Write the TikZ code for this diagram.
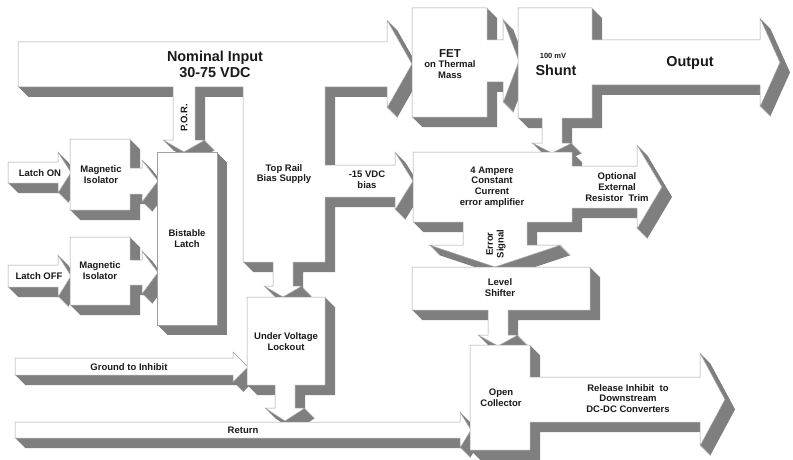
\documentclass[tikz,border=0pt]{standalone}
\usepackage{fontspec}
\setmainfont{Liberation Sans}
\usepackage{tikz}
\definecolor{slabedge}{HTML}{A0A0A0}
\definecolor{slabside}{HTML}{7F7F7F}
\definecolor{ink}{HTML}{1A1A1A}

% white front face, extruded toward the lower right
\newcommand{\blockslab}[1]{%
  \foreach \d in {0.5,1,...,10} {\fill[slabside, shift={(\d,\d)}] #1;}%
  \filldraw[fill=white, draw=slabedge, line width=0.5pt, line join=miter] #1;}

\begin{document}
\begin{tikzpicture}[
    x=1pt, y=-1pt,
    lbl/.style={font=\fontsize{9.5}{10.8}\selectfont\bfseries, text=ink, align=center, inner sep=0pt},
    big/.style={lbl, font=\fontsize{14.4}{16}\selectfont\bfseries},
  ]
  \useasboundingbox (0,0) rectangle (793,460);

  % supply rail with P.O.R., top rail bias supply and its outlets
  \blockslab{(18,42) -- (387,42) -- (387,20) -- (412,64) -- (387,108) -- (387,87) -- (325,87) -- (325,165) -- (395,165) -- (395,152) -- (413,181) -- (395,210) -- (395,197) -- (325,197) -- (325,262) -- (293,262) -- (293,286) -- (302,286) -- (283,297) -- (264,286) -- (273,286) -- (273,262) -- (243,262) -- (243,87) -- (195,87) -- (195,140) -- (205,140) -- (184,152) -- (163,140) -- (173,140) -- (173,87) -- (18,87) -- cycle}

  % latch inputs
  \blockslab{(8,162) -- (58,162) -- (58,152) -- (71,172.5) -- (58,193) -- (58,183) -- (8,183) -- cycle}
  \blockslab{(70,139) -- (130,139) -- (130,168) -- (142,168) -- (142,160) -- (158,181) -- (142,202) -- (142,194) -- (130,194) -- (130,210) -- (70,210) -- cycle}
  \blockslab{(8,265) -- (58,265) -- (58,255) -- (71,276) -- (58,297) -- (58,287) -- (8,287) -- cycle}
  \blockslab{(70,237) -- (130,237) -- (130,260) -- (142,260) -- (142,251) -- (158,272.5) -- (142,294) -- (142,285) -- (130,285) -- (130,305) -- (70,305) -- cycle}
  \blockslab{(157,152) rectangle (217,325)}

  % inhibit and return
  \blockslab{(15,358) -- (233,358) -- (233,352) -- (248,367) -- (233,382) -- (233,375) -- (15,375) -- cycle}
  \blockslab{(247,297) -- (325,297) -- (325,385) -- (295,385) -- (295,408) -- (305,408) -- (285,421) -- (265,408) -- (275,408) -- (275,385) -- (247,385) -- cycle}
  \blockslab{(15,422) -- (460,422) -- (460,412) -- (471,430) -- (460,448) -- (460,438) -- (15,438) -- cycle}

  % power path
  \blockslab{(412,8) -- (487,8) -- (487,40) -- (503,40) -- (503,19) -- (519,61) -- (503,103) -- (503,82) -- (487,82) -- (487,117) -- (412,117) -- cycle}
  \blockslab{(518,8) -- (592,8) -- (592,40) -- (760,40) -- (760,18) -- (780,62.5) -- (760,107) -- (760,85) -- (592,85) -- (592,118) -- (562,118) -- (562,143) -- (572,143) -- (552,153) -- (532,143) -- (542,143) -- (542,118) -- (518,118) -- cycle}

  % control loop
  \blockslab{(413,152) -- (572,152) -- (572,166) -- (637,166) -- (637,145) -- (662,187) -- (637,229) -- (637,208) -- (572,208) -- (572,222) -- (527,222) -- (527,245) -- (561,245) -- (495,267) -- (429,245) -- (463,245) -- (463,222) -- (413,222) -- cycle}
  \blockslab{(412,267) -- (590,267) -- (590,310) -- (508,310) -- (508,335) -- (518,335) -- (498,346) -- (478,335) -- (488,335) -- (488,310) -- (412,310) -- cycle}
  \blockslab{(470,345) -- (530,345) -- (530,377) -- (700,377) -- (700,353) -- (725,399.5) -- (700,446) -- (700,422) -- (530,422) -- (530,450) -- (470,450) -- cycle}

  % labels
  \node[big] (nominal) at (215,64) {Nominal Input\\30-75 VDC};
  \node[lbl, rotate=90] (por) at (184,118) {P.O.R.};
  \node[lbl] (fet) at (450,64) {{\fontsize{11.5}{13}\selectfont FET}\\on Thermal\\Mass};
  \node[lbl, font=\fontsize{7.5}{9}\selectfont\bfseries] (shuntval) at (553,56) {100 mV};
  \node[big] (shunt) at (556,70) {Shunt};
  \node[big] (output) at (690,63) {Output};
  \node[lbl] (latchon) at (40,173) {Latch ON};
  \node[lbl] (iso1) at (101,174.5) {Magnetic\\Isolator};
  \node[lbl] (latchoff) at (39,276) {Latch OFF};
  \node[lbl] (iso2) at (100,271) {Magnetic\\Isolator};
  \node[lbl] (latch) at (187,238.5) {Bistable\\Latch};
  \node[lbl] (toprail) at (284,174) {Top Rail\\Bias Supply};
  \node[lbl] (bias) at (367,180) {-15 VDC\\bias};
  \node[lbl] (amp) at (492,187) {4 Ampere\\Constant\\Current\\error amplifier};
  \node[lbl] (trim) at (617,187) {Optional\\External\\Resistor~~Trim};
  \node[lbl, rotate=90] (error) at (496,244) {Error\\Signal};
  \node[lbl] (shifter) at (500,288) {Level\\Shifter};
  \node[lbl] (uvl) at (286,341.5) {Under Voltage\\Lockout};
  \node[lbl] (ground) at (129,367) {Ground to Inhibit};
  \node[lbl] (return) at (243,430) {Return};
  \node[lbl] (oc) at (501,397.5) {Open\\Collector};
  \node[lbl] (release) at (628,398.5) {Release Inhibit~~to\\Downstream\\DC-DC Converters};
\end{tikzpicture}
\end{document}
